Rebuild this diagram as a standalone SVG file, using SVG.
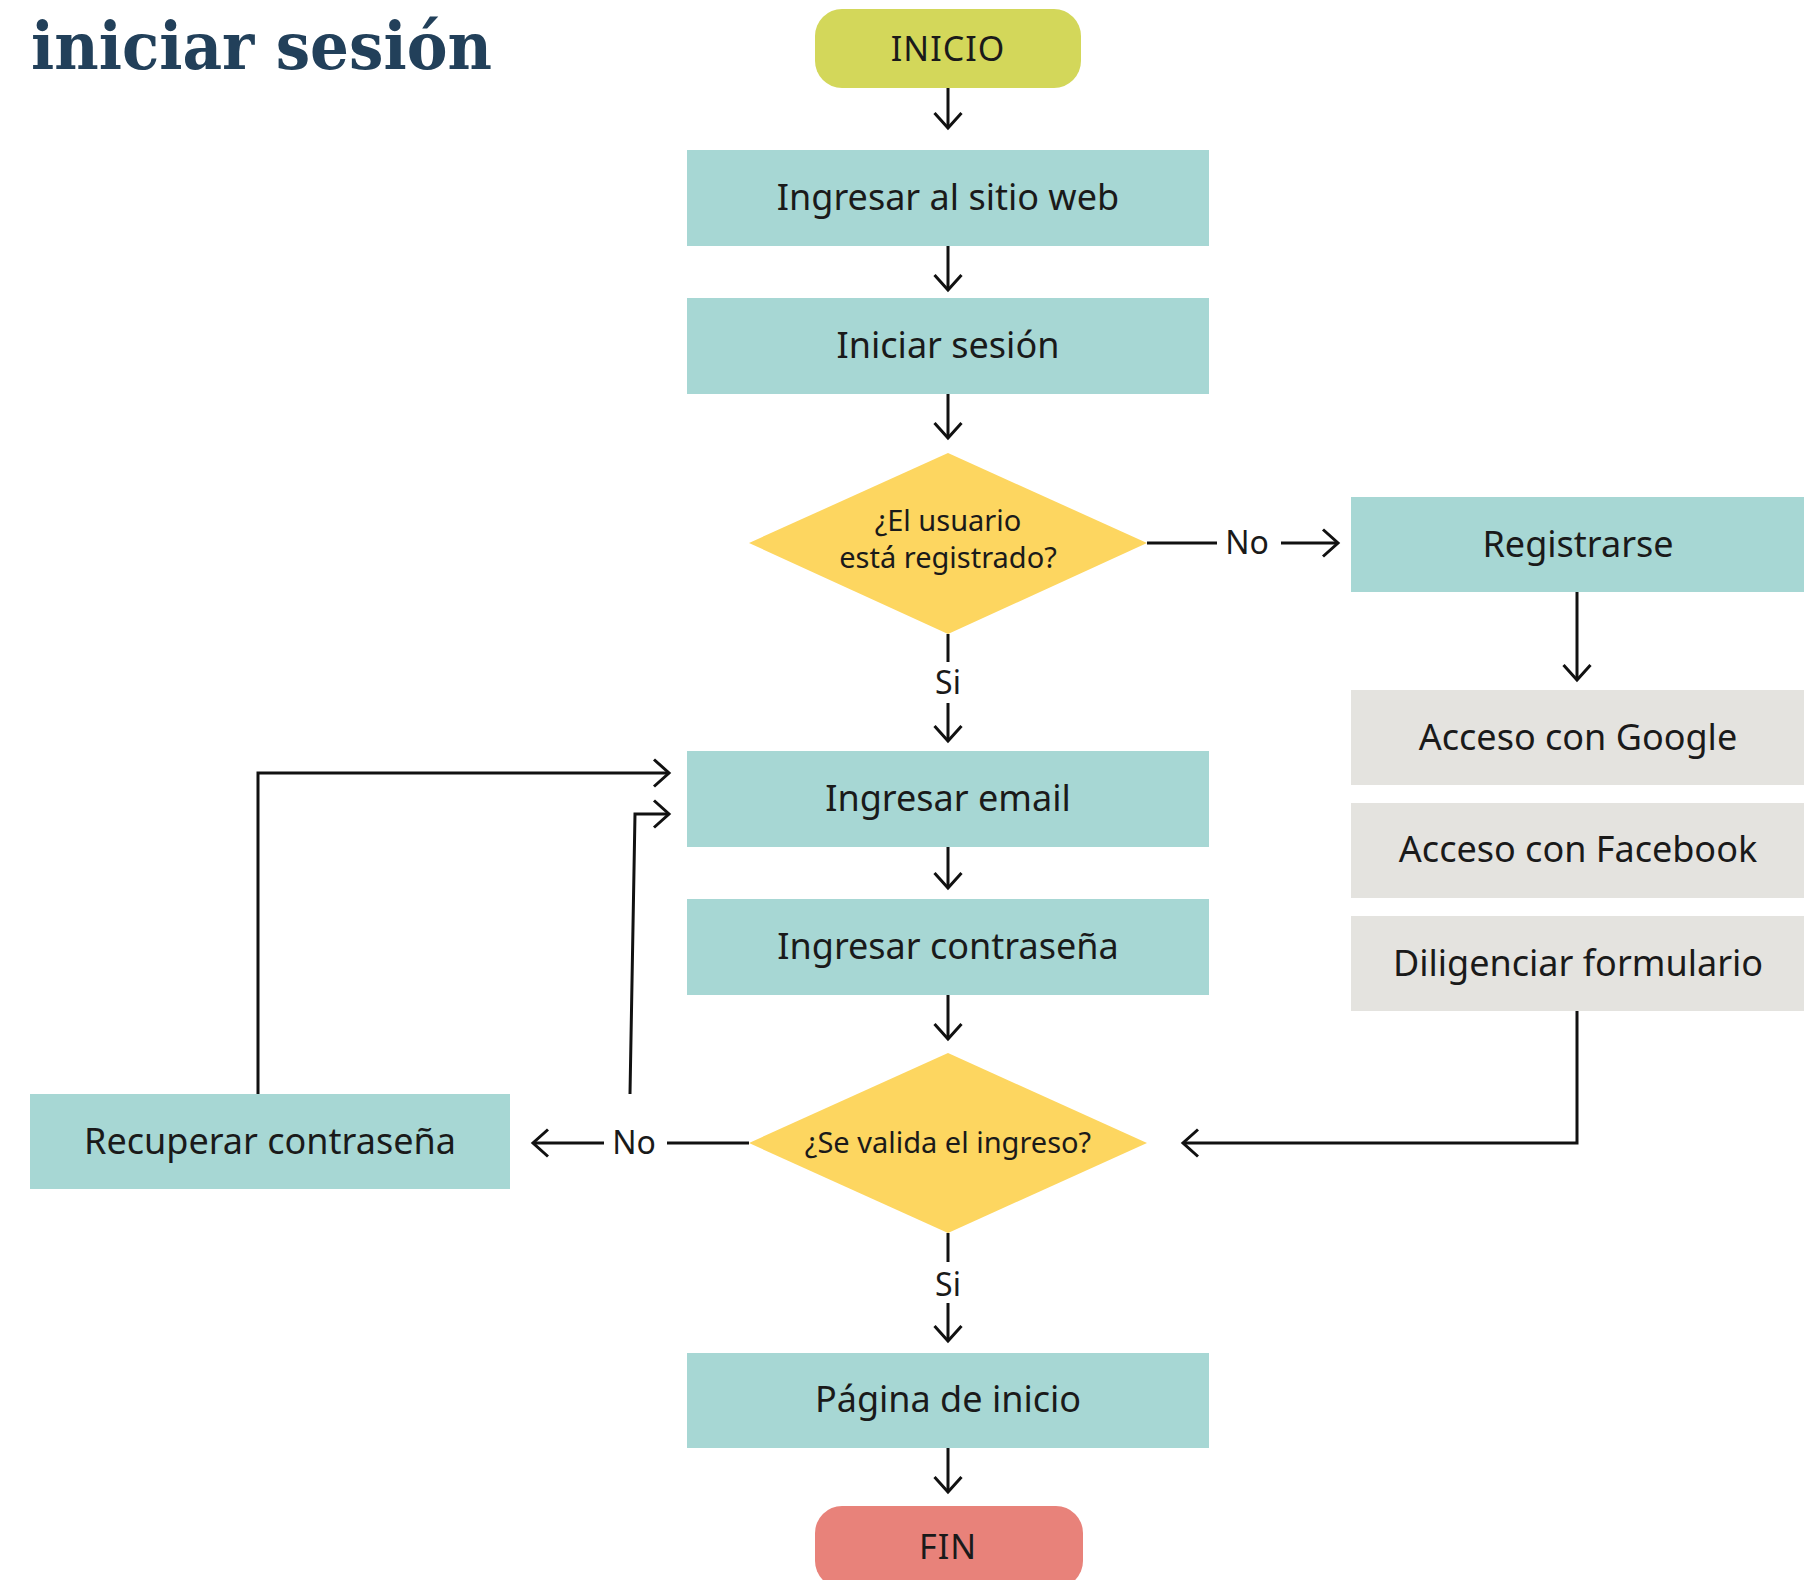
<svg xmlns="http://www.w3.org/2000/svg" width="1804" height="1580" viewBox="0 0 1804 1580">
<style>
  .box { fill: #a7d7d4; }
  .grey { fill: #e4e3df; }
  .dia { fill: #fdd660; }
  .t { font-family: "Noto Sans", "Open Sans", sans-serif; font-size: 36px; fill: #1a1a1a; text-anchor: middle; }
  .td { font-family: "Noto Sans", "Open Sans", sans-serif; font-size: 29px; fill: #1a1a1a; text-anchor: middle; }
  .lbl { font-family: "Noto Sans", "Open Sans", sans-serif; font-size: 32px; fill: #1a1a1a; text-anchor: middle; }
  .ln { fill: none; stroke: #111; stroke-width: 3; }
  .arw { fill: none; stroke: #111; stroke-width: 3; marker-end: url(#arr); }
  .title { font-family: "DejaVu Serif", "Liberation Serif", serif; font-weight: bold; font-size: 66px; fill: #22405a; }
</style>
<defs>
  <marker id="arr" markerUnits="userSpaceOnUse" viewBox="-18 -16 20 32" refX="0" refY="0" markerWidth="20" markerHeight="32" orient="auto" overflow="visible">
    <path d="M-15,-13.5 L0,0 L-15,13.5" fill="none" stroke="#111" stroke-width="3"/>
  </marker>
</defs>
<rect width="1804" height="1580" fill="#ffffff"/>

<g id="title">
  <text class="title" x="31" y="69" textLength="461" lengthAdjust="spacingAndGlyphs">iniciar sesión</text>
</g>

<g id="inicio">
  <rect x="815" y="9" width="266" height="79" rx="27" fill="#d3d75a"/>
  <text class="t" x="948" y="61" style="font-size:34px" letter-spacing="1">INICIO</text>
</g>
<g id="sitio">
  <rect class="box" x="687" y="150" width="522" height="96"/>
  <text class="t" x="948" y="210">Ingresar al sitio web</text>
</g>
<g id="iniciar">
  <rect class="box" x="687" y="298" width="522" height="96"/>
  <text class="t" x="948" y="358">Iniciar sesión</text>
</g>
<g id="registrado">
  <polygon class="dia" points="948,453 1147,543 948,634 749,543"/>
  <text class="td" x="948" y="531">¿El usuario</text>
  <text class="td" x="948" y="568">está registrado?</text>
</g>
<g id="registrarse">
  <rect class="box" x="1351" y="497" width="455" height="95"/>
  <text class="t" x="1578" y="557">Registrarse</text>
</g>
<g id="google">
  <rect class="grey" x="1351" y="690" width="455" height="95"/>
  <text class="t" x="1578" y="750">Acceso con Google</text>
</g>
<g id="facebook">
  <rect class="grey" x="1351" y="803" width="455" height="95"/>
  <text class="t" x="1578" y="862">Acceso con Facebook</text>
</g>
<g id="formulario">
  <rect class="grey" x="1351" y="916" width="455" height="95"/>
  <text class="t" x="1578" y="976">Diligenciar formulario</text>
</g>
<g id="email">
  <rect class="box" x="687" y="751" width="522" height="96"/>
  <text class="t" x="948" y="811">Ingresar email</text>
</g>
<g id="contrasena">
  <rect class="box" x="687" y="899" width="522" height="96"/>
  <text class="t" x="948" y="959">Ingresar contraseña</text>
</g>
<g id="valida">
  <polygon class="dia" points="948,1053 1147,1143 948,1233 749,1143"/>
  <text class="td" x="948" y="1153">¿Se valida el ingreso?</text>
</g>
<g id="recuperar">
  <rect class="box" x="30" y="1094" width="480" height="95"/>
  <text class="t" x="270" y="1154">Recuperar contraseña</text>
</g>
<g id="pagina">
  <rect class="box" x="687" y="1353" width="522" height="95"/>
  <text class="t" x="948" y="1412">Página de inicio</text>
</g>
<g id="fin">
  <rect x="815" y="1506" width="268" height="82" rx="27" fill="#e8827a"/>
  <text class="t" x="948" y="1559" style="font-size:34px" letter-spacing="1">FIN</text>
</g>

<g id="connectors">
  <line class="arw" x1="948" y1="88" x2="948" y2="128"/>
  <line class="arw" x1="948" y1="246" x2="948" y2="290"/>
  <line class="arw" x1="948" y1="394" x2="948" y2="438"/>
  <line class="ln" x1="948" y1="634" x2="948" y2="662"/>
  <text class="lbl" x="948" y="694">Si</text>
  <line class="arw" x1="948" y1="703" x2="948" y2="741"/>
  <line class="ln" x1="1147" y1="543" x2="1217" y2="543"/>
  <text class="lbl" x="1247" y="554">No</text>
  <line class="arw" x1="1281" y1="543" x2="1338" y2="543"/>
  <line class="arw" x1="1577" y1="592" x2="1577" y2="680"/>
  <line class="arw" x1="948" y1="847" x2="948" y2="888"/>
  <line class="arw" x1="948" y1="995" x2="948" y2="1039"/>
  <line class="ln" x1="948" y1="1233" x2="948" y2="1262"/>
  <text class="lbl" x="948" y="1296">Si</text>
  <line class="arw" x1="948" y1="1303" x2="948" y2="1341"/>
  <line class="arw" x1="948" y1="1448" x2="948" y2="1492"/>
  <line class="ln" x1="749" y1="1143" x2="667" y2="1143"/>
  <text class="lbl" x="634" y="1154">No</text>
  <line class="arw" x1="604" y1="1143" x2="533" y2="1143"/>
  <polyline class="arw" points="258,1094 258,773 669,773"/>
  <polyline class="arw" points="630,1094 635,814 669,814"/>
  <polyline class="arw" points="1577,1011 1577,1143 1183,1143"/>
</g>
</svg>
